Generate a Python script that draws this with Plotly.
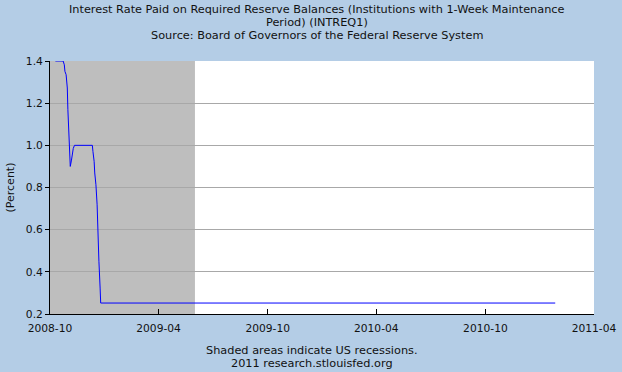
import plotly.graph_objects as go

# Data
dates = [
    "2008-10-10", "2008-10-23", "2008-10-25", "2008-10-26", "2008-10-28",
    "2008-10-30", "2008-10-31", "2008-11-02", "2008-11-03", "2008-11-04",
    "2008-11-06", "2008-11-07", "2008-11-09", "2008-11-11",
    "2008-12-11", "2008-12-12", "2008-12-14", "2008-12-15", "2008-12-17",
    "2008-12-19", "2008-12-20", "2008-12-22", "2008-12-24", "2008-12-25",
    "2011-01-26",
]
values = [
    1.40, 1.40, 1.382, 1.351, 1.335,
    1.272, 1.169, 1.058, 0.956, 0.90,
    0.93, 0.955, 0.985, 1.00,
    1.00, 0.971, 0.924, 0.869, 0.813,
    0.718, 0.584, 0.450, 0.323, 0.252,
    0.252,
]
recession_start = "2007-12-01"
recession_end = "2009-06-01"

x_range = ["2008-10-01", "2011-04-01"]
x_ticks = ["2008-10-01", "2009-04-01", "2009-10-01", "2010-04-01", "2010-10-01", "2011-04-01"]
y_ticks = [0.2, 0.4, 0.6, 0.8, 1.0, 1.2, 1.4]

title_lines = [
    "Interest Rate Paid on Required Reserve Balances (Institutions with 1-Week Maintenance",
    "Period) (INTREQ1)",
    "Source: Board of Governors of the Federal Reserve System",
]
footer_lines = [
    "Shaded areas indicate US recessions.",
    "2011 research.stlouisfed.org",
]

BG = "#B4CDE6"
FONT = "DejaVu Sans"
TXT = "#111111"

fig = go.Figure()
fig.add_trace(go.Scatter(
    x=dates, y=values, mode="lines",
    line=dict(color="#0000FF", width=1),
    hoverinfo="skip", showlegend=False,
))

fig.add_shape(
    type="rect", xref="x", yref="paper",
    x0=recession_start, x1=recession_end, y0=0, y1=1,
    fillcolor="#BEBEBE", line=dict(width=0), layer="between",
)

annotations = []
for i, t in enumerate(title_lines):
    annotations.append(dict(
        text=t, xref="paper", yref="paper", x=0.49, y=1.2055 - i * 0.0514,
        xanchor="center", yanchor="middle", showarrow=False,
        font=dict(family=FONT, size=11.3, color=TXT),
    ))
for i, t in enumerate(footer_lines):
    annotations.append(dict(
        text=t, xref="paper", yref="paper", x=0.4807, y=-0.146 - i * 0.0514,
        xanchor="center", yanchor="middle", showarrow=False,
        font=dict(family=FONT, size=11.3, color=TXT),
    ))
annotations.append(dict(
    text="(Percent)", xref="paper", yref="paper", x=-0.0735, y=0.5,
    xanchor="center", yanchor="middle", textangle=-90, showarrow=False,
    font=dict(family=FONT, size=11, color=TXT),
))

fig.update_layout(
    width=622, height=372,
    margin=dict(l=50, r=28, t=61, b=58, autoexpand=False),
    paper_bgcolor=BG, plot_bgcolor="#FFFFFF",
    font=dict(family=FONT, size=11, color=TXT),
    annotations=annotations,
    showlegend=False,
)
fig.update_xaxes(
    type="date", range=x_range, tickvals=x_ticks, tickformat="%Y-%m",
    ticks="inside", ticklen=5, tickcolor="#000000", tickwidth=1,
    showgrid=False, showline=True, linecolor="#000000", linewidth=1,
    zeroline=False, automargin=False, ticklabelstandoff=4,
    tickfont=dict(family=FONT, size=10.7, color=TXT),
)
fig.update_yaxes(
    range=[0.2, 1.4], tickvals=y_ticks, tickformat=".1f",
    ticks="outside", ticklen=4, tickcolor="#000000", tickwidth=1,
    showgrid=True, gridcolor="#A8A8A8", gridwidth=1,
    showline=True, linecolor="#000000", linewidth=1,
    zeroline=False, automargin=False,
    tickfont=dict(family=FONT, size=10.7, color=TXT),
)

fig.write_html(
    "out.html",
    config={"displayModeBar": False},
    post_script="document.body.style.margin='0';",
)
